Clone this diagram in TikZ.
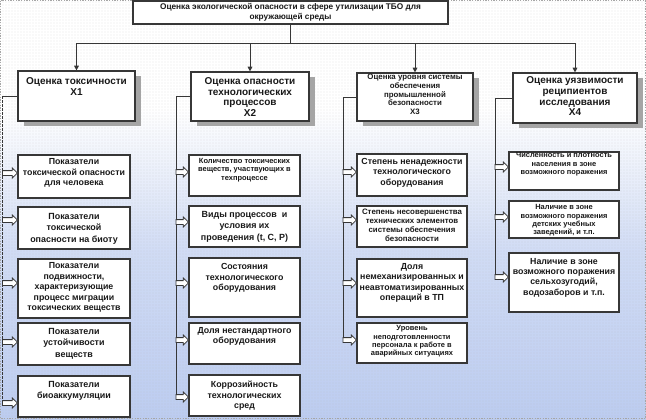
\documentclass[tikz,border=0pt]{standalone}
\usepackage{fontspec}
\setmainfont{Liberation Sans}
\usetikzlibrary{fit,shadows,calc,patterns.meta,arrows.meta}
\definecolor{bgblue}{RGB}{188,204,240}
\definecolor{linegray}{RGB}{55,55,55}
\definecolor{shadowgray}{RGB}{165,165,165}
\definecolor{textcol}{RGB}{25,25,25}
\pgfdeclareverticalshading{bgshade}{100bp}{color(0bp)=(bgblue); color(25bp)=(bgblue); color(45bp)=(bgblue!70!white); color(62bp)=(white); color(100bp)=(white)}
\newcommand\cbox[8]{%
  \node[box, fit={(#2,#3) (#4,#5)}] (#1) {};
  \node[#7, align=center, inner sep=0pt, text=textcol] (#1t) at ({(#2+#4)/2},#6) {#8};}
\newcommand\headnode[8]{%
  \node[headbox, fit={(#2,#3) (#4,#5)}] (#1) {};
  \node[#7, align=center, inner sep=0pt, text=textcol] (#1t) at ({(#2+#4)/2},#6) {#8};}
\newcommand\harrow[3]{%
  \draw[blockarrow] let \p1=(#1), \p2=(#2.west), \p3=(0,#3) in
  (\x1,\y3+1.8pt) -- (\x2-3.8pt,\y3+1.8pt) -- (\x2-3.8pt,\y3+3.7pt) -- (\x2,\y3)
  -- (\x2-3.8pt,\y3-3.7pt) -- (\x2-3.8pt,\y3-1.8pt) -- (\x1,\y3-1.8pt) -- cycle;}
\begin{document}
\begin{tikzpicture}[x=0.75pt,y=-0.75pt,
  box/.style={draw=linegray, line width=0.9pt, fill=white, inner sep=0pt},
  headbox/.style={box, drop shadow={shadow xshift=4.5pt, shadow yshift=-3.5pt, fill=shadowgray, opacity=1}},
  conn/.style={draw=linegray, line width=0.75pt},
  arr/.style={conn, -{Triangle[length=3.5pt,width=3.5pt]}},
  blockarrow/.style={draw=linegray, line width=0.6pt, fill=white},
  topfont/.style={font=\fontsize{6.2}{7.5}\selectfont\bfseries},
  headfont/.style={font=\fontsize{7.5}{8}\selectfont\bfseries},
  headsmall/.style={font=\fontsize{5.9}{6.5}\selectfont\bfseries},
  cM/.style={font=\fontsize{6.6}{7.8}\selectfont\bfseries},
  cL/.style={font=\fontsize{6.7}{8.7}\selectfont\bfseries},
  cS/.style={font=\fontsize{5.6}{6.3}\selectfont\bfseries},
  cSM/.style={font=\fontsize{5.9}{6.8}\selectfont\bfseries}]
\useasboundingbox (0,0) rectangle (646,419);
\fill[shading=bgshade] (0,0) rectangle (646,419);
\fill[pattern={Dots[distance=2.25pt,radius=0.3pt]}, pattern color=gray!55] (0,0) rectangle (646,419);
\draw[gray!70, line width=0.5pt, dash pattern=on 1pt off 1pt] (0.5,0.5) rectangle (645.5,418.5);

% top
\node[box, fit={(133,1) (448,24)}] (top) {};
\node[topfont, align=center, inner sep=0pt, text=textcol] (topt) at (290.5,12) {Оценка экологической опасности в сфере утилизации ТБО для\\окружающей среды};

% headings
\headnode{X1}{18}{71}{135}{121}{86.5}{headfont}{Оценка токсичности\\X1}
\headnode{X2}{191}{72}{309}{121}{97}{headfont}{Оценка опасности\\технологических\\процессов\\X2}
\headnode{X3}{357}{73}{473}{121}{94.5}{headsmall}{Оценка уровня системы\\обеспечения\\промышленной\\безопасности\\X3}
\headnode{X4}{513}{73}{637}{123}{96.5}{headfont}{Оценка уязвимости\\реципиентов\\исследования\\X4}

\coordinate (bar) at (290.5,43);
\draw[conn] (top.south) -- (bar);
\draw[conn] (bar -| X1.north) -- (bar -| X4.north);
\foreach \n in {X1,X2,X3,X4} \draw[arr] (bar -| \n.north) -- (\n.north);

% X1 children
\cbox{a1}{18}{155}{130}{198}{173}{cM}{Показатели\\токсической опасности\\для человека}
\cbox{a2}{18}{207}{130}{249}{228.5}{cL}{Показатели\\токсической\\опасности на биоту}
\cbox{a3}{18}{259}{130}{318}{287.5}{cM}{Показатели\\подвижности,\\характеризующие\\процесс миграции\\токсических веществ}
\cbox{a4}{18}{323}{130}{365}{343.5}{cL}{Показатели\\устойчивости\\веществ}
\cbox{a5}{18}{376}{130}{417}{391}{cL}{Показатели\\биоаккумуляции}

% X2 children
\cbox{b1}{189}{155}{300}{196}{170}{cS}{Количество токсических\\веществ, участвующих в\\техпроцессе}
\cbox{b2}{189}{206}{300}{247}{226.5}{cL}{Виды процессов \ и\\условия их\\проведения (t, C, P)}
\cbox{b3}{189}{258}{300}{317}{278}{cM}{Состояния\\технологического\\оборудования}
\cbox{b4}{189}{323}{300}{364}{336.5}{cM}{Доля нестандартного\\оборудования}
\cbox{b5}{189}{375}{300}{416}{396}{cM}{Коррозийность\\технологических\\сред}

% X3 children
\cbox{c1}{357}{154}{467}{196}{172.5}{cM}{Степень ненадежности\\технологического\\оборудования}
\cbox{c2}{357}{206}{467}{247}{225.5}{cSM}{Степень несовершенства\\технических элементов\\системы обеспечения\\безопасности}
\cbox{c3}{357}{259}{467}{317}{283}{cM}{Доля\\немеханизированных и\\неавтоматизированных\\операций в ТП}
\cbox{c4}{357}{323}{467}{363}{341.5}{cS}{Уровень\\неподготовленности\\персонала к работе в\\аварийных ситуациях}

% X4 children
\cbox{d1}{509}{152}{619}{190}{164.5}{cS}{Численность и плотность\\населения в зоне\\возможного поражения}
\cbox{d2}{509}{201}{619}{238}{220.5}{cS}{Наличие в зоне\\возможного поражения\\детских учебных\\заведений, и т.п.}
\cbox{d3}{509}{253}{619}{312}{277.5}{cM}{Наличие в зоне\\возможного поражения\\сельхозугодий,\\водозаборов и т.п.}

% spines
\coordinate (sa) at (2.5,403);
\coordinate (sb) at (176,397);
\coordinate (sc) at (343,340);
\coordinate (sd) at (495,277);
\draw[conn] (X1.west) -- (X1.west -| sa);
\draw[conn, dash pattern=on 2pt off 1pt] (X1.west -| sa) -- (sa);
\draw[conn] (X2.west) -| (sb);
\draw[conn] (X3.west) -| (sc);
\draw[conn] (X4.west) -| (sd);

% block arrows
\harrow{sa}{a1}{173}
\harrow{sa}{a2}{220}
\harrow{sa}{a3}{283}
\harrow{sa}{a4}{342}
\harrow{sa}{a5}{403}
\harrow{sb}{b1}{172}
\harrow{sb}{b2}{222}
\harrow{sb}{b3}{283}
\harrow{sb}{b4}{340}
\harrow{sb}{b5}{397}
\harrow{sc}{c1}{172}
\harrow{sc}{c2}{220}
\harrow{sc}{c3}{283}
\harrow{sc}{c4}{340}
\harrow{sd}{d1}{167}
\harrow{sd}{d2}{217}
\harrow{sd}{d3}{277}
\end{tikzpicture}
\end{document}
